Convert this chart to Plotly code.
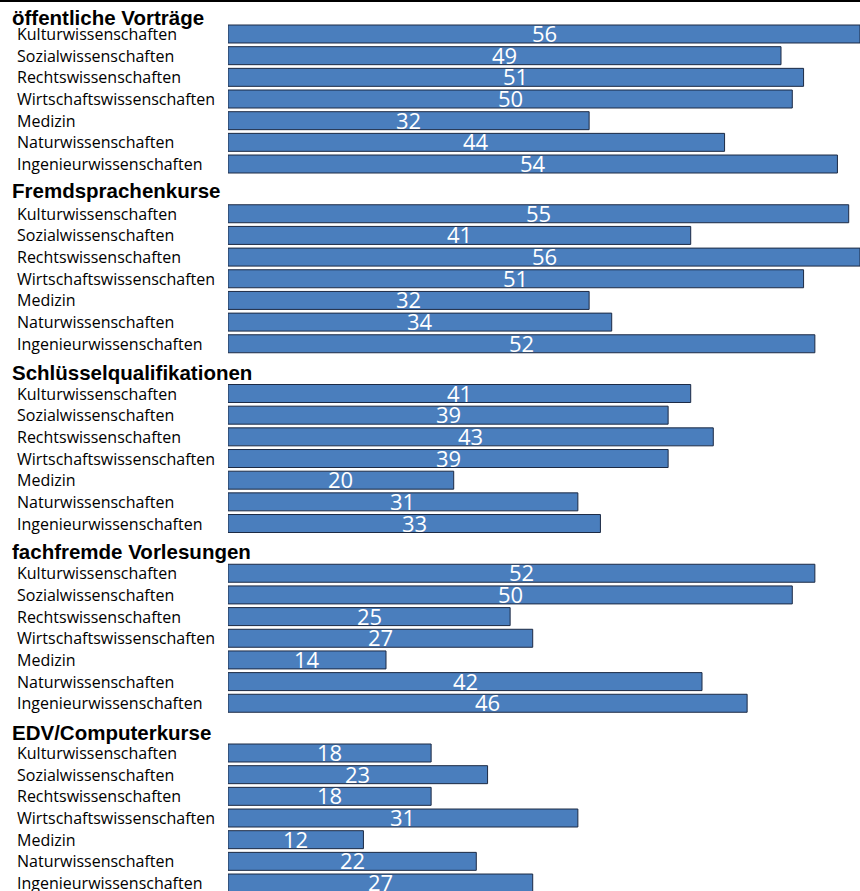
import plotly.graph_objects as go

groups = ["öffentliche Vorträge", "Fremdsprachenkurse", "Schlüsselqualifikationen",
          "fachfremde Vorlesungen", "EDV/Computerkurse"]
faculties = ["Kulturwissenschaften", "Sozialwissenschaften", "Rechtswissenschaften",
             "Wirtschaftswissenschaften", "Medizin", "Naturwissenschaften",
             "Ingenieurwissenschaften"]
oeffentliche_vortraege = [56, 49, 51, 50, 32, 44, 54]
fremdsprachenkurse = [55, 41, 56, 51, 32, 34, 52]
schluesselqualifikationen = [41, 39, 43, 39, 20, 31, 33]
fachfremde_vorlesungen = [52, 50, 25, 27, 14, 42, 46]
edv_computerkurse = [18, 23, 18, 31, 12, 22, 27]
series = [oeffentliche_vortraege, fremdsprachenkurse, schluesselqualifikationen,
          fachfremde_vorlesungen, edv_computerkurse]

W, H = 860, 891
L = 228
PW = W - L
unit = 21.67          # px per bar slot
G = 179.75 / unit     # group pitch in slots
top_px = 34
y_min = -top_px / unit
y_max = (H - top_px) / unit

ys, xs = [], []
for g, vals in enumerate(series):
    for i, v in enumerate(vals):
        ys.append(g * G + i)
        xs.append(v)

fig = go.Figure(go.Bar(
    x=xs, y=ys, orientation="h", width=0.83,
    marker=dict(color="#4a7ebd", line=dict(color="#1c2a44", width=1)),
    hoverinfo="x",
))

ann = []
title_off = [0.78, 1.08, 0.95, 1.0, 0.95]
for g, name in enumerate(groups):
    ann.append(dict(x=(10 - L) / PW, xref="paper", xanchor="left",
                    y=g * G - title_off[g], yref="y",
                    text="<b>" + name + "</b>", showarrow=False,
                    font=dict(family="Liberation Sans", size=20.5, color="black")))
    for i, f in enumerate(faculties):
        ann.append(dict(x=(15 - L) / PW, xref="paper", xanchor="left", y=g * G + i, yref="y",
                        text=f, showarrow=False,
                        font=dict(family="Open Sans", size=16, color="black")))
        v = series[g][i]
        ann.append(dict(x=v / 2, xref="x", xanchor="center", y=g * G + i, yref="y",
                        text=str(v), showarrow=False, yshift=1,
                        font=dict(family="Open Sans", size=22, color="white")))

fig.update_layout(
    width=W, height=H,
    margin=dict(l=L, r=0, t=0, b=0),
    paper_bgcolor="white", plot_bgcolor="white",
    showlegend=False,
    xaxis=dict(range=[0, 56], visible=False, fixedrange=True),
    yaxis=dict(range=[y_max, y_min], visible=False, fixedrange=True),
    annotations=ann,
    shapes=[dict(type="line", xref="paper", yref="paper", x0=-L / PW, x1=1,
                 y0=0.9995, y1=0.9995, line=dict(color="black", width=3))],
)

fig.write_html("out.html", config={"displayModeBar": False},
               post_script="document.body.style.margin='0';document.body.style.overflow='hidden';")
